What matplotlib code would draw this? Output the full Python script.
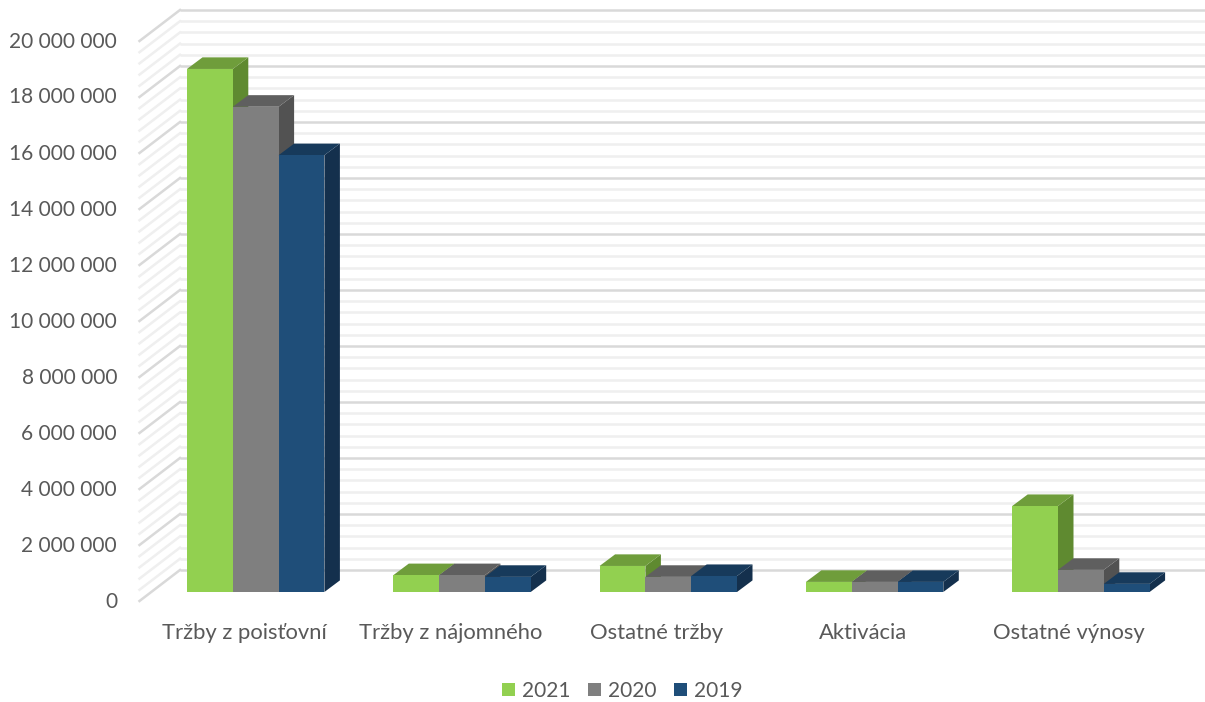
import numpy as np
import matplotlib
matplotlib.use("Agg")
import matplotlib.pyplot as plt
from matplotlib.patches import Polygon, Patch

categories = ["Tržby z poisťovní", "Tržby z nájomného", "Ostatné tržby", "Aktivácia", "Ostatné výnosy"]
v2021 = [18680000, 600000, 930000, 360000, 3070000]
v2020 = [17330000, 600000, 540000, 360000, 790000]
v2019 = [15600000, 540000, 570000, 360000, 290000]
years = ["2021", "2020", "2019"]
front_colors = ["#92D050", "#7F7F7F", "#1F4E79"]
top_colors = ["#6F9D3B", "#5F5F5F", "#173A5B"]
side_colors = ["#5F8A30", "#525252", "#14304D"]
major_ticks = [0, 2000000, 4000000, 6000000, 8000000, 10000000, 12000000, 14000000, 16000000, 18000000, 20000000]
minor_step = 400000

W, H = 1205, 702
plt.rcParams['font.family'] = ['Lato', 'DejaVu Sans']
TXT = "#595959"
PXM = 28.0 / 1e6          # pixels per unit of value
PXC = 206.3               # pixels per category
X0, Y0 = 244.0, 592.0     # pixel of category 0 / value 0 on the bar front plane

fig = plt.figure(figsize=(W / 100, H / 100), dpi=100)
ax = fig.add_axes([0, 0, 1, 1])
ax.set_xlim(-X0 / PXC, (W - X0) / PXC)
ax.set_ylim(-(H - Y0) / PXM, Y0 / PXM)
ax.axis("off")

def dx(px):
    return px / PXC

def dy(px):
    return px / PXM

# Walls: horizontal lines on the back wall and slanted lines on the side wall
wall_x, front_x = dx(180) - X0 / PXC, dx(139.5) - X0 / PXC
right_x = dx(1205) - X0 / PXC
back_off, front_off = dy(Y0 - 570), dy(Y0 - 601)
minor_vals = [v for v in np.arange(0, 20000001, minor_step) if v not in major_ticks]
ax.hlines(np.array(minor_vals) + back_off, wall_x, right_x, color="#EFEFEF", lw=1.8, zorder=1)
ax.hlines(np.array(major_ticks) + back_off, wall_x, right_x, color="#D9D9D9", lw=1.8, zorder=2)
for v in minor_vals:
    ax.plot([front_x, wall_x], [v + front_off, v + back_off], color="#EFEFEF", lw=1.8, zorder=1)
for v in major_ticks:
    ax.plot([front_x, wall_x], [v + front_off, v + back_off], color="#D9D9D9", lw=1.8, zorder=2)

# Bars with oblique depth
bw = dx(45.8)
start = dx(-57)
ddx, ddy = dx(15.5), dy(11.6)
z = 3
for j, vals in enumerate([v2021, v2020, v2019]):
    for i, v in enumerate(vals):
        xl = i + start + j * bw
        xr = xl + bw
        ax.add_patch(Polygon([(xr, 0), (xr + ddx, ddy), (xr + ddx, v + ddy), (xr, v)],
                             fc=side_colors[j], ec="none", zorder=z))
        ax.add_patch(Polygon([(xl, v), (xl + ddx, v + ddy), (xr + ddx, v + ddy), (xr, v)],
                             fc=top_colors[j], ec="none", zorder=z))
        ax.bar(xl, v, width=bw, align="edge", color=front_colors[j], zorder=z + 1)
        z += 2

# Axis labels
for v in major_ticks:
    ax.text(dx(117) - X0 / PXC, v - dy(9.5), f"{v:,}".replace(",", " "), ha="right", va="center",
            fontsize=15, color=TXT)
for i, c in enumerate(categories):
    ax.text(i, -dy(41), c, ha="center", va="center", fontsize=15.8, color=TXT)

handles = [Patch(fc=c, ec="none") for c in front_colors]
fig.legend(handles, years, loc="center", bbox_to_anchor=(622 / W, 1 - 691 / H), ncol=3, frameon=False,
           fontsize=15, labelcolor=TXT, handlelength=0.62, handleheight=0.62, handletextpad=0.33,
           columnspacing=0.85)

fig.savefig("out.png", dpi=100)
